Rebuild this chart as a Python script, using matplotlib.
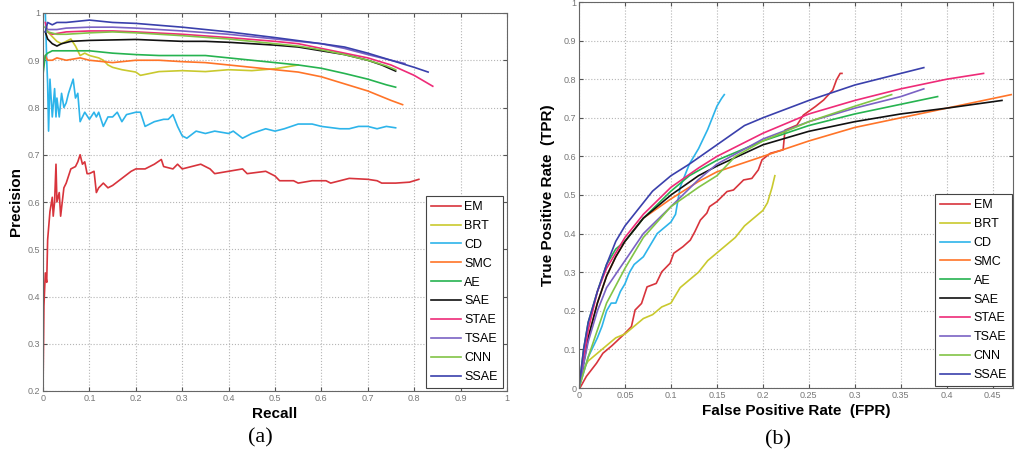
import matplotlib
matplotlib.use("Agg")
import matplotlib.pyplot as plt
import numpy as np

plt.rcParams["font.family"] = ["Liberation Sans", "DejaVu Sans"]

names = ["EM", "BRT", "CD", "SMC", "AE", "SAE", "STAE", "TSAE", "CNN", "SSAE"]
colors = ["#d8343c", "#c9c92e", "#2db4ea", "#ff7428", "#26b350", "#111111",
          "#ee2b78", "#7a62c4", "#82c446", "#3a40ac"]

# ---------------- (a) Precision-Recall ----------------
pr_em_r = [0, 0.002, 0.005, 0.008, 0.01, 0.015, 0.02, 0.022, 0.025, 0.028, 0.03, 0.035, 0.038, 0.045, 0.05, 0.06, 0.07, 0.075, 0.08, 0.085, 0.09, 0.095, 0.1, 0.11, 0.115, 0.12, 0.13, 0.14, 0.15, 0.17, 0.19, 0.2, 0.22, 0.24, 0.255, 0.26, 0.28, 0.29, 0.3, 0.32, 0.34, 0.36, 0.37, 0.4, 0.43, 0.44, 0.48, 0.5, 0.51, 0.54, 0.55, 0.58, 0.61, 0.62, 0.66, 0.7, 0.72, 0.73, 0.76, 0.79, 0.81]
pr_em_p = [0.2, 0.38, 0.45, 0.43, 0.52, 0.58, 0.61, 0.57, 0.6, 0.68, 0.6, 0.62, 0.57, 0.63, 0.64, 0.67, 0.675, 0.685, 0.70, 0.68, 0.685, 0.66, 0.66, 0.665, 0.62, 0.63, 0.64, 0.63, 0.635, 0.65, 0.665, 0.67, 0.67, 0.68, 0.69, 0.675, 0.67, 0.68, 0.67, 0.675, 0.68, 0.67, 0.66, 0.665, 0.67, 0.66, 0.665, 0.655, 0.645, 0.645, 0.64, 0.645, 0.645, 0.64, 0.65, 0.648, 0.645, 0.64, 0.64, 0.642, 0.648]

pr_brt_r = [0.005, 0.01, 0.02, 0.03, 0.04, 0.05, 0.06, 0.07, 0.08, 0.09, 0.1, 0.12, 0.13, 0.14, 0.15, 0.17, 0.2, 0.21, 0.22, 0.25, 0.3, 0.35, 0.4, 0.45, 0.5, 0.55]
pr_brt_p = [0.97, 0.96, 0.95, 0.94, 0.935, 0.94, 0.945, 0.93, 0.91, 0.915, 0.91, 0.905, 0.9, 0.89, 0.885, 0.88, 0.875, 0.868, 0.87, 0.876, 0.878, 0.876, 0.88, 0.878, 0.882, 0.89]

pr_cd_r = [0.005, 0.008, 0.01, 0.012, 0.015, 0.02, 0.025, 0.028, 0.03, 0.035, 0.04, 0.045, 0.05, 0.055, 0.065, 0.07, 0.075, 0.08, 0.09, 0.1, 0.11, 0.115, 0.12, 0.13, 0.14, 0.15, 0.16, 0.17, 0.18, 0.2, 0.21, 0.22, 0.24, 0.26, 0.27, 0.28, 0.29, 0.3, 0.31, 0.33, 0.35, 0.37, 0.4, 0.41, 0.43, 0.45, 0.48, 0.5, 0.52, 0.55, 0.58, 0.6, 0.64, 0.66, 0.68, 0.7, 0.72, 0.74, 0.76]
pr_cd_p = [1.0, 0.9, 0.85, 0.75, 0.86, 0.78, 0.84, 0.78, 0.82, 0.78, 0.83, 0.8, 0.81, 0.83, 0.86, 0.82, 0.83, 0.77, 0.79, 0.775, 0.79, 0.78, 0.79, 0.76, 0.78, 0.78, 0.79, 0.77, 0.785, 0.79, 0.79, 0.76, 0.77, 0.775, 0.775, 0.785, 0.76, 0.74, 0.735, 0.75, 0.745, 0.75, 0.745, 0.75, 0.735, 0.745, 0.755, 0.75, 0.755, 0.765, 0.765, 0.76, 0.755, 0.755, 0.76, 0.76, 0.755, 0.76, 0.757]

pr_smc_r = [0.0, 0.005, 0.01, 0.02, 0.03, 0.05, 0.08, 0.1, 0.15, 0.2, 0.25, 0.3, 0.35, 0.4, 0.45, 0.5, 0.55, 0.6, 0.65, 0.7, 0.75, 0.775]
pr_smc_p = [0.89, 0.91, 0.9, 0.9, 0.905, 0.9, 0.905, 0.9, 0.895, 0.9, 0.9, 0.897, 0.895, 0.89, 0.885, 0.88, 0.875, 0.865, 0.85, 0.835, 0.815, 0.806]

pr_ae_r = [0.0, 0.005, 0.01, 0.02, 0.05, 0.1, 0.15, 0.2, 0.25, 0.3, 0.35, 0.4, 0.45, 0.5, 0.55, 0.6, 0.65, 0.7, 0.74, 0.76]
pr_ae_p = [0.87, 0.91, 0.915, 0.92, 0.92, 0.92, 0.915, 0.912, 0.91, 0.91, 0.91, 0.905, 0.9, 0.895, 0.89, 0.883, 0.872, 0.86, 0.848, 0.843]

pr_sae_r = [0.005, 0.01, 0.015, 0.02, 0.03, 0.04, 0.06, 0.1, 0.15, 0.2, 0.25, 0.3, 0.35, 0.4, 0.45, 0.5, 0.55, 0.6, 0.65, 0.7, 0.73, 0.76]
pr_sae_p = [0.96, 0.945, 0.94, 0.935, 0.93, 0.935, 0.94, 0.942, 0.943, 0.944, 0.942, 0.94, 0.94, 0.938, 0.935, 0.932, 0.928, 0.92, 0.912, 0.9, 0.89, 0.877]

pr_stae_r = [0.005, 0.01, 0.02, 0.05, 0.1, 0.15, 0.2, 0.3, 0.4, 0.5, 0.55, 0.6, 0.65, 0.7, 0.75, 0.8, 0.84]
pr_stae_p = [0.98, 0.96, 0.955, 0.96, 0.962, 0.962, 0.96, 0.955, 0.948, 0.94, 0.935, 0.925, 0.915, 0.905, 0.89, 0.868, 0.845]

pr_tsae_r = [0.005, 0.01, 0.03, 0.05, 0.1, 0.15, 0.2, 0.3, 0.4, 0.5, 0.6, 0.65, 0.7, 0.75, 0.78]
pr_tsae_p = [0.97, 0.965, 0.965, 0.968, 0.97, 0.97, 0.968, 0.962, 0.955, 0.945, 0.935, 0.925, 0.912, 0.9, 0.893]

pr_cnn_r = [0.005, 0.01, 0.03, 0.05, 0.1, 0.15, 0.2, 0.3, 0.4, 0.5, 0.55, 0.6, 0.65, 0.7, 0.74, 0.76]
pr_cnn_p = [0.97, 0.96, 0.955, 0.955, 0.958, 0.96, 0.958, 0.952, 0.945, 0.935, 0.93, 0.922, 0.912, 0.9, 0.888, 0.88]

pr_ssae_r = [0.005, 0.01, 0.02, 0.03, 0.05, 0.1, 0.15, 0.2, 0.3, 0.4, 0.5, 0.6, 0.65, 0.7, 0.75, 0.8, 0.83]
pr_ssae_p = [0.96, 0.98, 0.975, 0.98, 0.98, 0.985, 0.98, 0.978, 0.97, 0.96, 0.948, 0.935, 0.928, 0.915, 0.9, 0.885, 0.875]

# ---------------- (b) ROC ----------------
roc_em_f = [0, 0.001, 0.008, 0.019, 0.026, 0.036, 0.048, 0.057, 0.061, 0.068, 0.074, 0.084, 0.09, 0.099, 0.103, 0.113, 0.121, 0.126, 0.132, 0.139, 0.142, 0.15, 0.161, 0.168, 0.179, 0.188, 0.195, 0.199, 0.208, 0.222, 0.224, 0.237, 0.244, 0.257, 0.266, 0.276, 0.28, 0.284, 0.286]
roc_em_t = [0, 0.0, 0.03, 0.064, 0.09, 0.11, 0.137, 0.159, 0.202, 0.219, 0.262, 0.271, 0.301, 0.323, 0.349, 0.366, 0.383, 0.405, 0.435, 0.453, 0.47, 0.483, 0.509, 0.513, 0.539, 0.543, 0.565, 0.591, 0.608, 0.617, 0.668, 0.681, 0.707, 0.729, 0.746, 0.772, 0.798, 0.815, 0.815]

roc_brt_f = [0, 0.005, 0.01, 0.02, 0.03, 0.04, 0.05, 0.06, 0.07, 0.08, 0.09, 0.1, 0.11, 0.12, 0.13, 0.14, 0.15, 0.16, 0.17, 0.18, 0.19, 0.2, 0.205, 0.21, 0.213]
roc_brt_t = [0, 0.05, 0.07, 0.09, 0.11, 0.13, 0.14, 0.16, 0.18, 0.19, 0.21, 0.22, 0.26, 0.28, 0.3, 0.33, 0.35, 0.37, 0.39, 0.42, 0.44, 0.46, 0.48, 0.52, 0.55]

roc_cd_f = [0, 0.01, 0.02, 0.025, 0.03, 0.035, 0.04, 0.045, 0.05, 0.055, 0.06, 0.065, 0.07, 0.075, 0.08, 0.085, 0.09, 0.1, 0.105, 0.11, 0.115, 0.12, 0.13, 0.14, 0.145, 0.15, 0.155, 0.158]
roc_cd_t = [0, 0.08, 0.13, 0.16, 0.2, 0.22, 0.22, 0.25, 0.27, 0.3, 0.32, 0.33, 0.34, 0.36, 0.38, 0.4, 0.41, 0.43, 0.45, 0.52, 0.55, 0.58, 0.62, 0.67, 0.7, 0.73, 0.75, 0.76]

roc_smc_f = [0, 0.01, 0.02, 0.03, 0.04, 0.05, 0.07, 0.1, 0.13, 0.15, 0.2, 0.25, 0.3, 0.35, 0.4, 0.47]
roc_smc_t = [0, 0.13, 0.22, 0.29, 0.34, 0.38, 0.44, 0.49, 0.535, 0.56, 0.6, 0.64, 0.675, 0.7, 0.725, 0.76]

roc_ae_f = [0, 0.005, 0.01, 0.02, 0.03, 0.04, 0.05, 0.07, 0.1, 0.12, 0.15, 0.2, 0.25, 0.3, 0.35, 0.39]
roc_ae_t = [0, 0.1, 0.17, 0.25, 0.32, 0.36, 0.38, 0.44, 0.51, 0.55, 0.59, 0.64, 0.68, 0.71, 0.735, 0.755]

roc_sae_f = [0, 0.01, 0.02, 0.03, 0.04, 0.05, 0.07, 0.1, 0.13, 0.15, 0.2, 0.25, 0.3, 0.35, 0.4, 0.46]
roc_sae_t = [0, 0.13, 0.22, 0.29, 0.34, 0.38, 0.44, 0.5, 0.55, 0.575, 0.63, 0.665, 0.69, 0.71, 0.725, 0.745]

roc_stae_f = [0, 0.01, 0.02, 0.03, 0.05, 0.07, 0.1, 0.13, 0.15, 0.2, 0.25, 0.3, 0.35, 0.4, 0.44]
roc_stae_t = [0, 0.15, 0.25, 0.31, 0.39, 0.45, 0.52, 0.57, 0.6, 0.66, 0.71, 0.745, 0.775, 0.8, 0.815]

roc_tsae_f = [0, 0.01, 0.02, 0.03, 0.05, 0.07, 0.1, 0.13, 0.15, 0.2, 0.25, 0.3, 0.35, 0.375]
roc_tsae_t = [0, 0.12, 0.2, 0.26, 0.33, 0.4, 0.47, 0.54, 0.58, 0.645, 0.69, 0.725, 0.755, 0.775]

roc_cnn_f = [0, 0.01, 0.02, 0.03, 0.05, 0.07, 0.1, 0.13, 0.15, 0.17, 0.2, 0.25, 0.3, 0.34]
roc_cnn_t = [0, 0.08, 0.15, 0.22, 0.31, 0.39, 0.47, 0.52, 0.55, 0.6, 0.64, 0.69, 0.73, 0.76]

roc_ssae_f = [0, 0.005, 0.01, 0.02, 0.03, 0.04, 0.05, 0.06, 0.08, 0.1, 0.12, 0.15, 0.18, 0.2, 0.25, 0.3, 0.35, 0.375]
roc_ssae_t = [0, 0.1, 0.17, 0.25, 0.32, 0.38, 0.42, 0.45, 0.51, 0.55, 0.58, 0.63, 0.68, 0.70, 0.745, 0.785, 0.815, 0.83]

pr_data = [(pr_em_r, pr_em_p), (pr_brt_r, pr_brt_p), (pr_cd_r, pr_cd_p), (pr_smc_r, pr_smc_p),
           (pr_ae_r, pr_ae_p), (pr_sae_r, pr_sae_p), (pr_stae_r, pr_stae_p), (pr_tsae_r, pr_tsae_p),
           (pr_cnn_r, pr_cnn_p), (pr_ssae_r, pr_ssae_p)]
roc_data = [(roc_em_f, roc_em_t), (roc_brt_f, roc_brt_t), (roc_cd_f, roc_cd_t), (roc_smc_f, roc_smc_t),
            (roc_ae_f, roc_ae_t), (roc_sae_f, roc_sae_t), (roc_stae_f, roc_stae_t), (roc_tsae_f, roc_tsae_t),
            (roc_cnn_f, roc_cnn_t), (roc_ssae_f, roc_ssae_t)]

fig = plt.figure(figsize=(10.15, 4.59), dpi=100)
ax1 = fig.add_axes([43/1015, 1-391/459, 464/1015, 378/459])
ax2 = fig.add_axes([579/1015, 1-388/459, 434/1015, 386/459])

def fmt(v):
    return ("%.2f" % v).rstrip("0").rstrip(".")

def style(ax):
    ax.grid(True, linestyle=":", color="#b5b5b5", linewidth=0.8)
    ax.tick_params(direction="in", length=3, labelsize=6.5, labelcolor="#777777",
                   color="#555555", top=True, right=True, pad=2)
    for s in ax.spines.values():
        s.set_color("#666666")
        s.set_linewidth(0.8)

for (x, y), c, n in zip(pr_data, colors, names):
    ax1.plot(x, y, color=c, lw=1.2, label=n)
ax1.set_xlim(0, 1)
ax1.set_ylim(0.2, 1)
xt = np.round(np.arange(0, 1.01, 0.1), 2)
yt = np.round(np.arange(0.2, 1.01, 0.1), 2)
ax1.set_xticks(xt)
ax1.set_xticklabels([fmt(v) for v in xt])
ax1.set_yticks(yt)
ax1.set_yticklabels([fmt(v) for v in yt])
style(ax1)
ax1.set_xlabel("Recall", fontsize=11, fontweight="bold", labelpad=3)
ax1.set_ylabel("Precision", fontsize=11, fontweight="bold", labelpad=3)

for (x, y), c, n in zip(roc_data, colors, names):
    ax2.plot(x, y, color=c, lw=1.2, label=n)
ax2.set_xlim(0, 0.472)
ax2.set_ylim(0, 1)
xt2 = np.round(np.arange(0, 0.451, 0.05), 2)
yt2 = np.round(np.arange(0, 1.01, 0.1), 2)
ax2.set_xticks(xt2)
ax2.set_xticklabels([fmt(v) for v in xt2])
ax2.set_yticks(yt2)
ax2.set_yticklabels([fmt(v) for v in yt2])
style(ax2)
ax2.set_xlabel("False Positive Rate  (FPR)", fontsize=11, fontweight="bold", labelpad=3)
ax2.set_ylabel("True Positive Rate  (TPR)", fontsize=11, fontweight="bold", labelpad=6)

for ax, anchor in ((ax1, (0.991, 0.008)), (ax2, (0.998, 0.005))):
    leg = ax.legend(loc="lower right", bbox_to_anchor=anchor, fontsize=9,
                    fancybox=False, framealpha=1, edgecolor="#444444",
                    handlelength=2.4, labelspacing=0.55, borderpad=0.4,
                    handletextpad=0.3, borderaxespad=0)
    leg.get_frame().set_linewidth(0.8)

fig.text(260/1015, 1-438/459, "(a)", fontsize=16, family="Liberation Serif", ha="center", va="center")
fig.text(778/1015, 1-440/459, "(b)", fontsize=16, family="Liberation Serif", ha="center", va="center")

fig.savefig("out.png", dpi=100)
